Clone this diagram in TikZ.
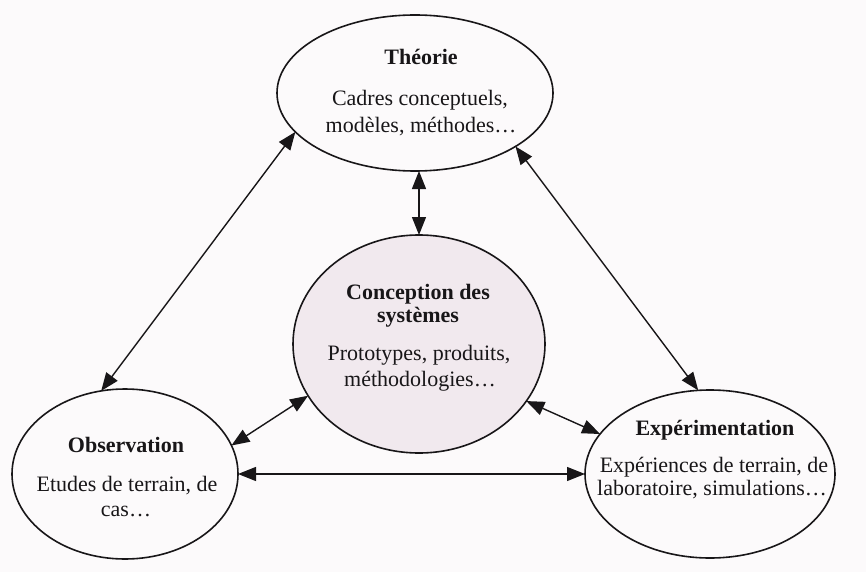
\documentclass[tikz,border=0pt]{standalone}
\usepackage{fontspec}
\setmainfont{Liberation Serif}
\usetikzlibrary{arrows.meta,shapes.geometric}
\definecolor{paper}{RGB}{252,250,251}
\definecolor{ink}{RGB}{24,22,24}
\definecolor{blush}{RGB}{241,233,238}
\begin{document}
\begin{tikzpicture}[x=1pt,y=-1pt,
  bubble/.style={ellipse, draw=ink, line width=1.6pt, inner sep=0pt, outer sep=0pt},
  title/.style={anchor=base, text=ink, inner sep=0pt, font=\fontsize{22}{26}\selectfont\bfseries},
  body/.style={anchor=base, text=ink, inner sep=0pt, font=\fontsize{22}{26}\selectfont},
  link/.style={draw=ink, line width=1.4pt,
    {Triangle[length=18pt,width=14pt]}-{Triangle[length=18pt,width=14pt]}}
]
% page
\fill[paper] (0,0) rectangle (866,572);

% the four domains
\node[bubble, minimum width=276pt, minimum height=156pt] (T) at (415,93) {};
\node[bubble, fill=blush, minimum width=252pt, minimum height=218pt] (C) at (419,344) {};
\node[bubble, minimum width=226pt, minimum height=170pt] (O) at (125,474) {};
\node[bubble, minimum width=250pt, minimum height=168pt] (E) at (710,474) {};

% texts
\node[title] (t0) at (421,65) {Théorie};
\node[body]  (t1) at (420,106) {Cadres conceptuels,};
\node[body]  (t2) at (421,133) {modèles, méthodes…};

\node[title] (c0) at (418,299) {Conception des};
\node[title] (c1) at (418,322) {systèmes};
\node[body]  (c2) at (419,360) {Prototypes, produits,};
\node[body]  (c3) at (420,386) {méthodologies…};

\node[title] (o0) at (126,452) {Observation};
\node[body]  (o1) at (127,491) {Etudes de terrain, de};
\node[body]  (o2) at (126,516) {cas…};

\node[title] (e0) at (715,435) {Expérimentation};
\node[body]  (e1) at (714,472) {Expériences de terrain, de};
\node[body]  (e2) at (712,495) {laboratoire, simulations…};

% two-way links
\draw[link] (T.198) -- (O.106);
\draw[link] (T.332) -- (E.98);
\draw[link] (C.north |- T.south) -- (C.north);
\draw[link] (C.205) -- (O.15);
\draw[link] (C.332) -- (E.160);
\draw[link] (O.east) -- (E.west);
\end{tikzpicture}
\end{document}
